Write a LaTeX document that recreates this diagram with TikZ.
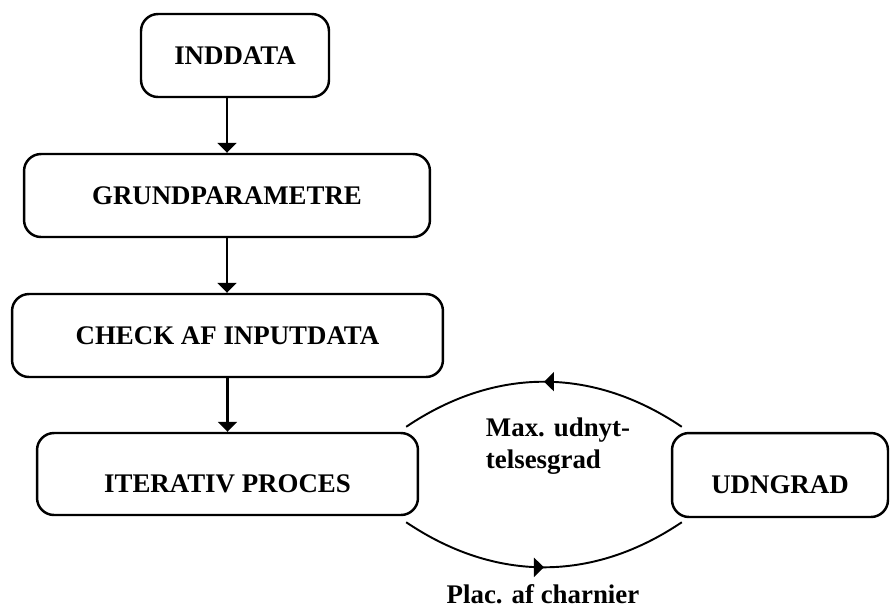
\documentclass[tikz,border=0pt]{standalone}
\usepackage{fontspec}
\setmainfont{Liberation Serif}
\usepackage{tikz}
\usetikzlibrary{arrows.meta,decorations.markings}

\begin{document}
\begin{tikzpicture}[x=0.02cm,y=0.02cm,font=\fontsize{15.3}{18}\selectfont\bfseries,
  box/.style={draw,line width=1.4pt,rounded corners=0.34cm,minimum height=1.66cm,inner sep=0pt},
  lowtxt/.style={text height=0.73cm},
  flow/.style={-{Triangle[length=0.2cm,width=0.38cm]},line width=1.2pt},
  cycarc/.style={line width=1.1pt,postaction={decorate},
    decoration={markings,mark=at position 0.5 with {\arrow{Triangle[length=0.2cm,width=0.38cm]}}}}]
\useasboundingbox (0,0) rectangle (890,-610);
% main chain
\node[box,minimum width=3.76cm] (inddata) at (235,-55.5) {INDDATA};
\node[box,minimum width=8.12cm] (grund) at (227,-195.5) {GRUNDPARAMETRE};
\node[box,minimum width=8.62cm] (check) at (227.5,-335.5) {CHECK AF INPUTDATA};
\node[box,lowtxt,minimum width=7.62cm,minimum height=1.64cm] (iter) at (227.5,-474) {ITERATIV PROCES};
\node[box,lowtxt,minimum width=4.32cm,minimum height=1.68cm] (udn) at (780,-475) {UDNGRAD};
\draw[flow] (grund.north |- inddata.south) -- (grund.north);
\draw[flow] (grund.south) -- (grund.south |- check.north);
\draw[flow] (check.south) -- (check.south |- iter.north);
% iteration loop
\draw[cycarc] ([shift={(11,5)}]udn.north west) to[bend right=34] ([shift={(-13,5)}]iter.north east);
\draw[cycarc] ([shift={(-13,-6)}]iter.south east) to[bend right=34] ([shift={(11,-4)}]udn.south west);
\node[align=left] (maxlbl) at (558,-446) {Max. udnyt-\\telsesgrad};
\node[anchor=base,inner sep=1pt] (placlbl) at (543,-603) {Plac. af charnier};
\end{tikzpicture}
\end{document}
